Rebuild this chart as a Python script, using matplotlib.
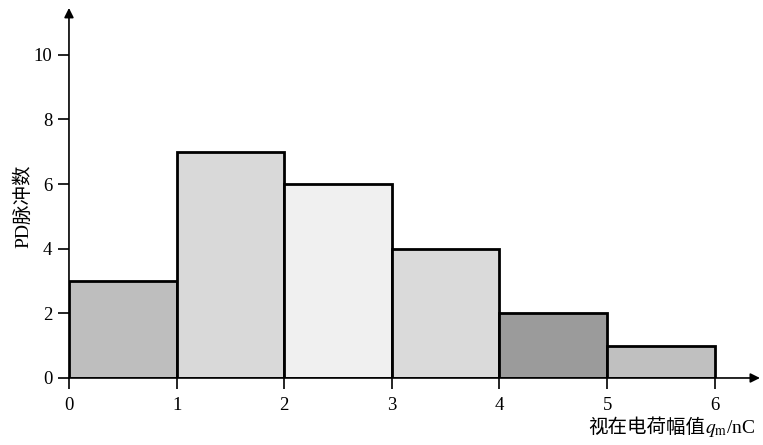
import matplotlib
matplotlib.use("Agg")
import matplotlib.pyplot as plt

plt.rcParams['font.family'] = ['Liberation Serif', 'Noto Sans CJK SC']
plt.rcParams['mathtext.fontset'] = 'stix'

bin_edges = [0, 1, 2, 3, 4, 5, 6]
counts = [3, 7, 6, 4, 2, 1]
bar_colors = ['#bebebe', '#d9d9d9', '#f0f0f0', '#dadada', '#9b9b9b', '#c0c0c0']
xticks = [0, 1, 2, 3, 4, 5, 6]
yticks = [0, 2, 4, 6, 8, 10]
ylabel = 'PD脉冲数'
xlabel_cn = '视在电荷幅值'
xlabel_math = '$q_{\\mathrm{m}}$/nC'

fig = plt.figure(figsize=(7.63, 4.45), dpi=100)
ax = fig.add_axes([0.0904, 0.1506, 0.9056, 0.8315])
xmax, ymax = 6.42, 11.45
ax.set_xlim(0, xmax)
ax.set_ylim(0, ymax)

widths = [bin_edges[i + 1] - bin_edges[i] for i in range(len(counts))]
ax.bar(bin_edges[:-1], counts, width=widths, align='edge', color=bar_colors,
       edgecolor='black', linewidth=2.0, zorder=2)

for s in ax.spines.values():
    s.set_visible(False)

ax.annotate('', xy=(xmax, 0), xytext=(0, 0),
            arrowprops=dict(arrowstyle='-|>', color='black', lw=1.2,
                            mutation_scale=14, shrinkA=0, shrinkB=0),
            annotation_clip=False, zorder=3)
ax.annotate('', xy=(0, ymax), xytext=(0, 0),
            arrowprops=dict(arrowstyle='-|>', color='black', lw=1.2,
                            mutation_scale=14, shrinkA=0, shrinkB=0),
            annotation_clip=False, zorder=3)

ax.set_xticks(xticks)
ax.set_yticks(yticks)
ax.tick_params(axis='both', direction='out', length=8, width=1.2,
               labelsize=13.5, colors='black', pad=4)
ax.tick_params(axis='x', pad=6)

ax.text(-0.43, 5.3, ylabel, rotation=90, ha='center', va='center', fontsize=14)

t_math = fig.text(0.99, 0.028, xlabel_math, ha='right', va='baseline', fontsize=14)
fig.canvas.draw()
bb = t_math.get_window_extent()
x_left = bb.x0 / fig.bbox.width
fig.text(x_left, 0.028, xlabel_cn, ha='right', va='baseline', fontsize=14,
         family=['Noto Sans CJK SC'])

fig.savefig('out.png', dpi=100)
